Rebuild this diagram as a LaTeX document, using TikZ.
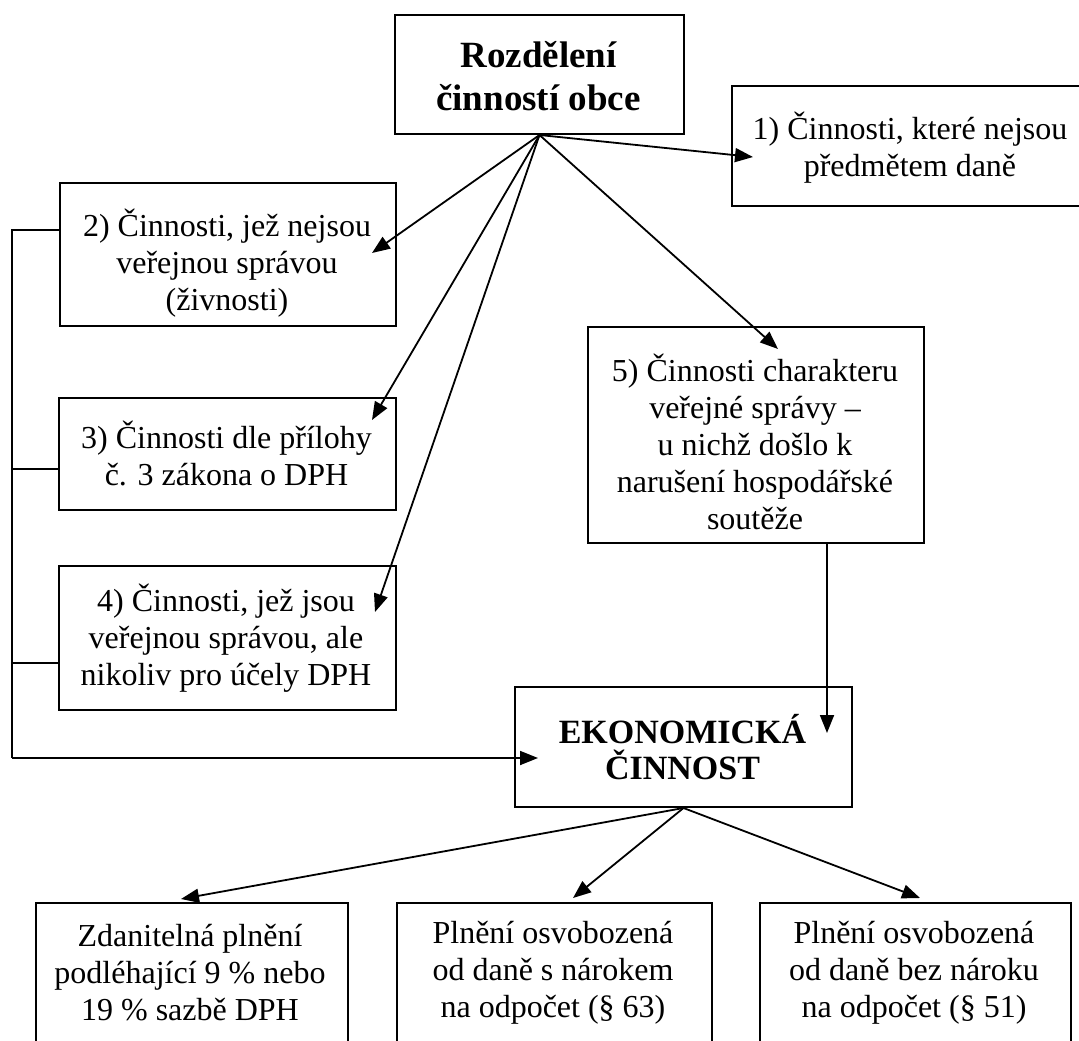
\documentclass[tikz,border=0pt]{standalone}
\usepackage{fontspec}
\setmainfont{Liberation Serif}
\usetikzlibrary{arrows.meta,calc}
\begin{document}
\begin{tikzpicture}[x=1pt,y=-1pt,
  boxnode/.style={draw,line width=2pt,rectangle,anchor=north west,inner sep=0pt},
  txt/.style={align=center,inner sep=0pt,font=\fontsize{32}{37}\selectfont},
  bold/.style={align=center,inner sep=0pt,font=\fontsize{37}{43}\selectfont\bfseries},
  arr/.style={line width=1.8pt,-{Triangle[length=18pt,width=14pt]}},
  ln/.style={line width=1.8pt}]
\clip (0,0) rectangle (1079,1041);
\fill[white] (0,0) rectangle (1079,1041);

% boxes
\node[boxnode,minimum width=289pt,minimum height=119pt] (top) at (394,14) {};
\node[boxnode,minimum width=360pt,minimum height=120pt] (b1) at (731,85) {};
\node[boxnode,minimum width=336pt,minimum height=143pt] (b2) at (59,182) {};
\node[boxnode,minimum width=337pt,minimum height=112pt] (b3) at (58,397) {};
\node[boxnode,minimum width=337pt,minimum height=144pt] (b4) at (58,565) {};
\node[boxnode,minimum width=336pt,minimum height=216pt] (b5) at (587,326) {};
\node[boxnode,minimum width=337pt,minimum height=120pt] (ek) at (514,686) {};
\node[boxnode,minimum width=312pt,minimum height=170pt] (ba) at (35,902) {};
\node[boxnode,minimum width=315pt,minimum height=170pt] (bb) at (396,902) {};
\node[boxnode,minimum width=311pt,minimum height=170pt] (bc) at (759,902) {};

% texts
\node[bold] (toptxt) at (538.5,76) {Rozdělení\\činností obce};
\node[txt] (b1t) at (910,148) {1) Činnosti, které nejsou\\předmětem daně};
\node[txt] (b2t) at (227,263) {2) Činnosti, jež nejsou\\veřejnou správou\\(živnosti)};
\node[txt] (b3t) at (226.5,453) {3) Činnosti dle přílohy\\č. 3 zákona o DPH};
\node[txt] (b4t) at (226,638) {4) Činnosti, jež jsou\\veřejnou správou, ale\\nikoliv pro účely DPH};
\node[txt] (b5t) at (755,442) {5) Činnosti charakteru\\veřejné správy –\\u nichž došlo k\\narušení hospodářské\\soutěže};
\node[bold,font=\fontsize{34}{36}\selectfont\bfseries] (ekt) at (682.5,747) {EKONOMICKÁ\\ČINNOST};
\node[txt] (bat) at (190,973) {Zdanitelná plnění\\podléhající 9 \% nebo\\19 \% sazbě DPH};
\node[txt] (bbt) at (553,973) {Plnění osvobozená\\od daně s nárokem\\na odpočet (§ 63)};
\node[txt] (bct) at (914,973) {Plnění osvobozená\\od daně bez nároku\\na odpočet (§ 51)};

% arrow tips
\coordinate (t1) at (753,157);
\coordinate (t2) at (372,253);
\coordinate (t3) at (372,420);
\coordinate (t4) at (375,612);
\coordinate (t5) at (778,349);
\coordinate (b5out) at (827,542);
\coordinate (t6) at (827,733);
\coordinate (tek) at (538,758);
\coordinate (ta) at (181,899);
\coordinate (tb) at (573,898);
\coordinate (tc) at (920,898);
\coordinate (brtop) at (12,230);
\coordinate (brmid) at (12,469);
\coordinate (brlow) at (12,663);
\coordinate (brbot) at (12,758);

% connectors
\draw[arr] (top.south) -- (t1);
\draw[arr] (top.south) -- (t2);
\draw[arr] (top.south) -- (t3);
\draw[arr] (top.south) -- (t4);
\draw[arr] (top.south) -- (t5);
\draw[arr] (b5out) -- (t6);
\draw[ln] (brtop -| b2.west) -- (brtop) -- (brbot);
\draw[ln] (brmid) -- (brmid -| b3.west);
\draw[ln] (brlow) -- (brlow -| b4.west);
\draw[arr] (brbot) -- (tek);
\draw[arr] (ek.south) -- (ta);
\draw[arr] (ek.south) -- (tb);
\draw[arr] (ek.south) -- (tc);
\end{tikzpicture}
\end{document}
